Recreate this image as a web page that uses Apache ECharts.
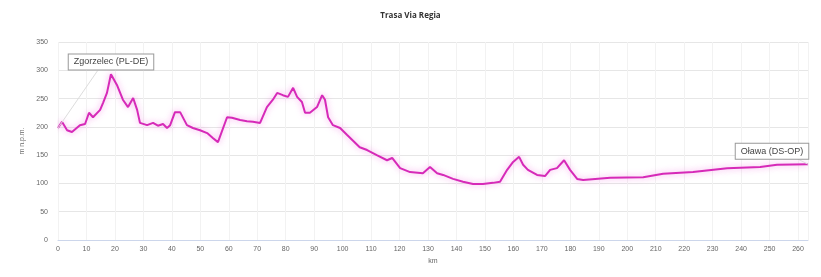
<!DOCTYPE html>
<html>
<head>
<meta charset="utf-8">
<title>Trasa Via Regia</title>
<script src="https://cdn.jsdelivr.net/npm/echarts@6/dist/echarts.min.js"></script>
<style>
    html, body { margin: 0; padding: 0; background: #fff; }
    #profileChart { width: 821px; height: 277px; }
</style>
</head>
<body>
<div id="profileChart"></div>
<script>
// distance along route [km]
var km = [0, 1.4, 3.2, 4.9, 7.7, 9.5, 10.9, 12.3, 14.8, 15.8, 17.2, 18.6, 20.7, 22.8, 24.6, 26.4, 27.8, 28.8,
    31.3, 33.4, 35.1, 36.9, 38.3, 39.4, 41.1, 42.9, 45.3, 47.4, 49.9, 52.4, 54.5, 56.2, 59.4, 61.1, 64, 66.4,
    68.5, 71, 73.4, 75.5, 77, 79, 80.8, 82.6, 84, 85.7, 86.8, 88.5, 91, 92.8, 93.8, 94.9, 96.6, 99.1, 101.5,
    106, 108.6, 112, 115.6, 117.4, 120.2, 123.7, 128.2, 130.7, 133.2, 135.3, 138.8, 142.3, 145.8, 149.3,
    152.8, 155.3, 157.8, 159.9, 162, 163.4, 165.1, 168.3, 171.1, 172.9, 175.3, 177.8, 179.9, 182.4, 184.5,
    194, 205.6, 212.6, 223.1, 235.1, 246.7, 252.6, 263.5];
// altitude [m n.p.m.]
var alt = [198, 209, 194, 191, 203, 205, 225, 217, 230, 242, 260, 293, 274, 248, 235, 251, 230, 207,
    203, 207, 202, 205, 198, 203, 226, 226, 203, 198, 194, 189, 180, 173, 217, 216, 212, 210,
    209, 207, 235, 248, 260, 256, 253, 269, 253, 244, 225, 225, 235, 256, 248, 217, 203, 198, 186,
    164, 159, 150, 141, 145, 127, 120, 118, 129, 118, 115, 108, 103, 99, 99,
    101, 103, 124, 138, 147, 133, 124, 115, 113, 124, 127, 141, 124, 108, 106,
    110, 111, 117, 120, 127, 129, 133, 134];

var points = ['Zgorzelec (PL-DE)', 'Oława (DS-OP)'];

var dom = document.getElementById('profileChart');
var myChart = echarts.init(dom, null, { renderer: 'canvas' });

var seriesData = km.map(function (k, i) { return [k, alt[i]]; });
var last = seriesData.length - 1;

var option = {
    backgroundColor: '#fff',
    animation: false,
    title: {
        text: 'Trasa Via Regia',
        left: 'center',
        top: 7,
        textStyle: { fontSize: 8, fontWeight: 'bold', color: '#333', fontFamily: 'Open Sans' }
    },
    grid: { left: 58, right: 13, top: 42, bottom: 37 },
    xAxis: {
        type: 'value',
        min: 0,
        max: 263.5,
        interval: 10,
        name: 'km',
        nameLocation: 'middle',
        nameGap: 16,
        nameTextStyle: { fontSize: 7, color: '#666' },
        axisLine: { show: true, lineStyle: { color: '#ccd6eb' } },
        axisTick: { show: false },
        axisLabel: {
            fontSize: 7, color: '#666', margin: 6,
            showMaxLabel: false
        },
        splitLine: { show: true, lineStyle: { color: '#f2f2f2' } }
    },
    yAxis: {
        type: 'value',
        min: 0,
        max: 350,
        interval: 50,
        name: 'm n.p.m.',
        nameLocation: 'middle',
        nameGap: 27,
        nameTextStyle: { fontSize: 7, color: '#666' },
        axisLine: { show: false },
        axisTick: { show: false },
        axisLabel: { fontSize: 7, color: '#666', margin: 10 },
        splitLine: { lineStyle: { color: '#e6e6e6' } }
    },
    series: [
        {
            type: 'line',
            data: seriesData,
            symbol: 'none',
            smooth: false,
            lineStyle: {
                color: '#d62ab8',
                width: 2,
                shadowColor: 'rgba(240, 90, 220, 0.6)',
                shadowBlur: 6
            },
            markPoint: {
                symbol: 'circle',
                symbolSize: 0,
                label: {
                    show: true,
                    fontSize: 9,
                    color: '#444',
                    backgroundColor: '#fff',
                    borderColor: '#999',
                    borderWidth: 1,
                    padding: [3, 5]
                },
                data: [
                    { coord: seriesData[0], value: points[0], label: { formatter: points[0], offset: [53, -66] } },
                    { coord: seriesData[last], value: points[1], label: { formatter: points[1], offset: [-36, -13] } }
                ]
            },
            markLine: {
                silent: true,
                symbol: 'none',
                label: { show: false },
                lineStyle: { color: '#ddd', width: 1, type: 'solid' },
                data: [
                    [{ coord: seriesData[0] }, { coord: [14, 300] }],
                    [{ coord: seriesData[last] }, { coord: [258, 148] }]
                ]
            }
        }
    ]
};

if (option && typeof option === 'object') {
    myChart.setOption(option);
    window.addEventListener('resize', function () {
        myChart.resize();
    });
}
</script>
</body>
</html>
